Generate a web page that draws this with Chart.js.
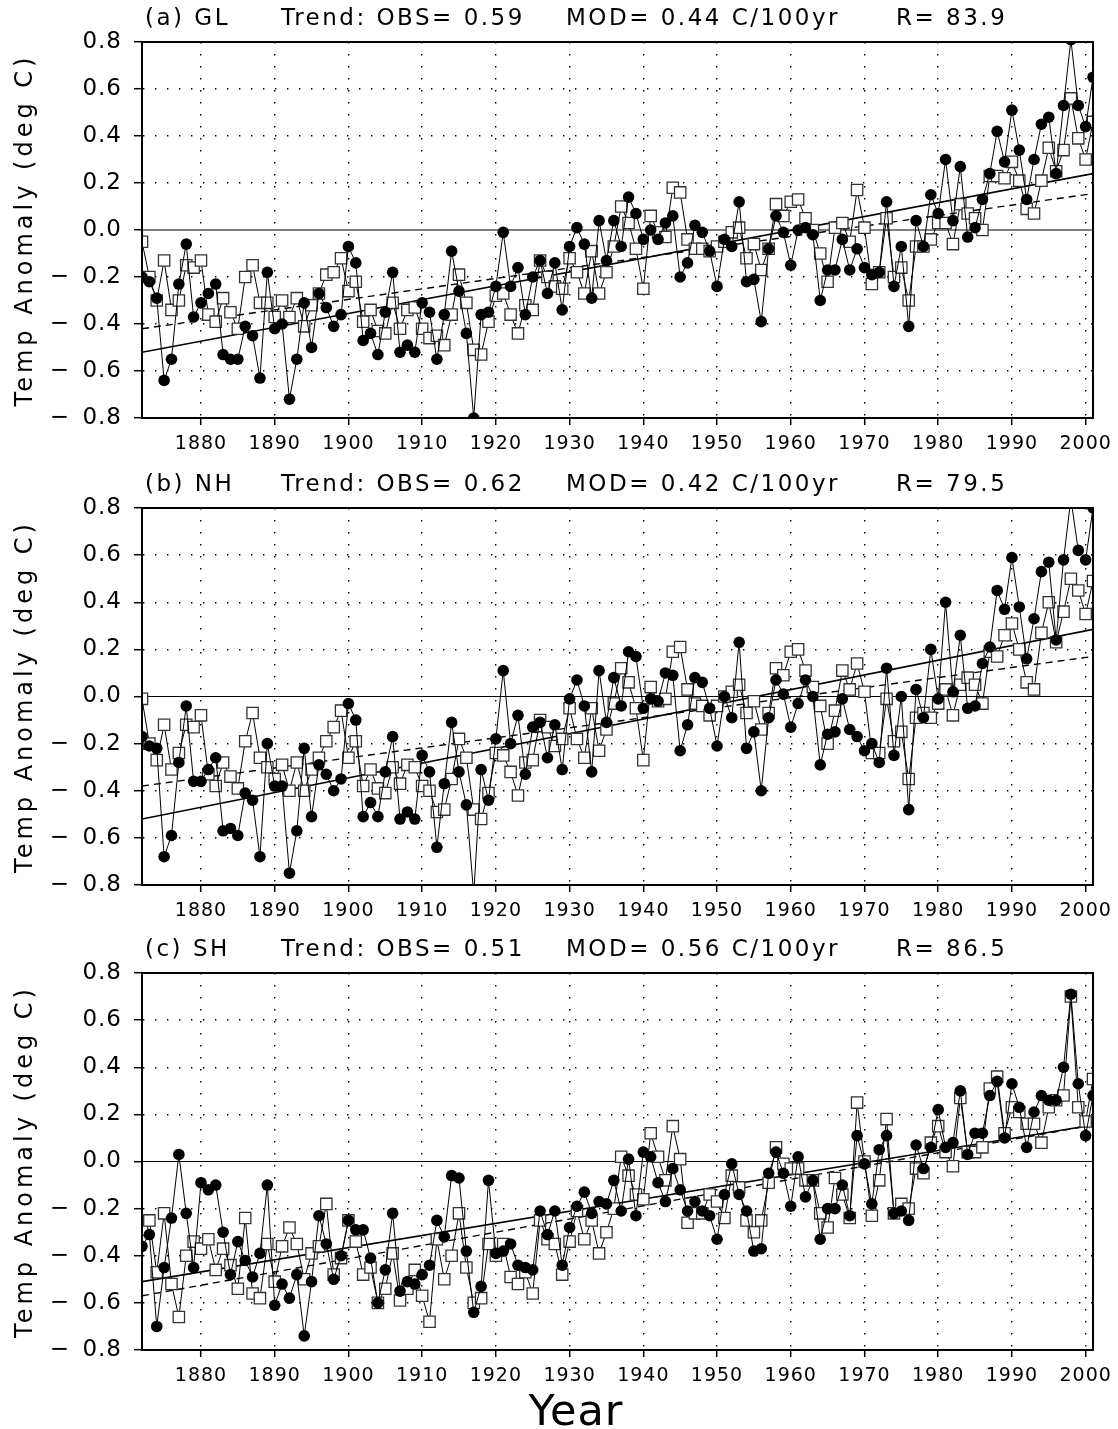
<!DOCTYPE html>
<html>
<head>
<meta charset="utf-8">
<script src="https://cdn.jsdelivr.net/npm/chart.js@4/dist/chart.umd.min.js"></script>
<style>
	body { margin: 0; background: #fff; }
	#wrap { position: relative; width: 1118px; height: 1429px; background: #fff; }
	canvas { position: absolute; left: 0; }
</style>
</head>
<body>
<div id="wrap">
	<canvas id="panelA" width="1118" height="465" style="top:0px"></canvas>
	<canvas id="panelB" width="1118" height="465" style="top:465px"></canvas>
	<canvas id="panelC" width="1118" height="499" style="top:930px"></canvas>
</div>
<script>
// Years on the x axis, one value per year 1872..2001
const years = Array.from({ length: 130 }, (_, i) => 1872 + i);
const xTickYears = [1880, 1890, 1900, 1910, 1920, 1930, 1940, 1950, 1960, 1970, 1980, 1990, 2000];
const yTickValues = [-0.8, -0.6, -0.4, -0.2, 0.0, 0.2, 0.4, 0.6, 0.8];
const trendYears = [1872, 2001];

// (a) Global
const glObs = [
	-0.20, -0.22, -0.29, -0.64, -0.55, -0.23, -0.06, -0.37,
	-0.31, -0.27, -0.23, -0.53, -0.55, -0.55, -0.41, -0.45, -0.63, -0.18,
	-0.42, -0.40, -0.72, -0.55, -0.31, -0.50, -0.27, -0.33, -0.41, -0.36,
	-0.07, -0.14, -0.47, -0.44, -0.53, -0.35, -0.18, -0.52, -0.49, -0.52,
	-0.31, -0.35, -0.55, -0.36, -0.09, -0.26, -0.44, -0.80, -0.36, -0.35,
	-0.24, -0.01, -0.24, -0.16, -0.36, -0.20, -0.13, -0.27, -0.14, -0.34,
	-0.07, 0.01, -0.06, -0.29, 0.04, -0.13, 0.04, -0.07, 0.14, 0.07,
	-0.04, 0.00, -0.04, 0.03, 0.06, -0.20, -0.14, 0.02, -0.01, -0.09,
	-0.24, -0.04, -0.07, 0.12, -0.22, -0.21, -0.39, -0.08, 0.06, -0.01,
	-0.15, 0.00, 0.01, -0.02, -0.30, -0.17, -0.17, -0.04, -0.17, -0.08,
	-0.16, -0.19, -0.18, 0.12, -0.24, -0.07, -0.41, 0.04, -0.07, 0.15,
	0.07, 0.30, 0.04, 0.27, -0.03, 0.01, 0.13, 0.24, 0.42, 0.29,
	0.51, 0.34, 0.13, 0.30, 0.45, 0.48, 0.24, 0.53, 0.81, 0.53,
	0.44, 0.65
];
const glMod = [
	-0.05, -0.20, -0.30, -0.13, -0.34, -0.30, -0.15, -0.16,
	-0.13, -0.36, -0.39, -0.29, -0.35, -0.42, -0.20, -0.15, -0.31, -0.31,
	-0.37, -0.30, -0.37, -0.29, -0.41, -0.32, -0.27, -0.19, -0.18, -0.12,
	-0.26, -0.22, -0.39, -0.34, -0.43, -0.44, -0.31, -0.42, -0.34, -0.33,
	-0.42, -0.46, -0.45, -0.49, -0.36, -0.19, -0.31, -0.51, -0.53, -0.39,
	-0.28, -0.27, -0.36, -0.44, -0.32, -0.34, -0.13, -0.20, -0.24, -0.25,
	-0.12, -0.18, -0.27, -0.09, -0.27, -0.18, -0.07, 0.10, 0.03, -0.08,
	-0.25, 0.06, -0.01, -0.03, 0.18, 0.16, -0.04, -0.08, -0.08, -0.09,
	-0.07, -0.05, -0.01, 0.01, -0.12, -0.06, -0.17, -0.08, 0.11, 0.06,
	0.12, 0.13, 0.05, 0.00, -0.10, -0.22, 0.01, 0.03, -0.05, 0.17,
	0.01, -0.23, -0.18, 0.05, -0.20, -0.16, -0.30, -0.07, -0.07, -0.04,
	0.03, 0.03, -0.06, 0.11, 0.07, 0.05, 0.00, 0.23, 0.23, 0.22,
	0.29, 0.21, 0.09, 0.07, 0.21, 0.35, 0.25, 0.34, 0.56, 0.39,
	0.30, 0.46
];
const glObsTrend = [-0.52, 0.24];
const glModTrend = [-0.42, 0.155];
const glTitle = ['(a) GL', 'Trend: OBS= 0.59', 'MOD= 0.44 C/100yr', 'R= 83.9'];

// (b) Northern Hemisphere
const nhObs = [
	-0.17, -0.21, -0.22, -0.68, -0.59, -0.28, -0.04, -0.36,
	-0.36, -0.31, -0.26, -0.57, -0.56, -0.59, -0.41, -0.44, -0.68, -0.20,
	-0.38, -0.38, -0.75, -0.57, -0.22, -0.51, -0.29, -0.33, -0.40, -0.35,
	-0.03, -0.10, -0.51, -0.45, -0.51, -0.32, -0.17, -0.52, -0.49, -0.52,
	-0.25, -0.32, -0.64, -0.37, -0.11, -0.32, -0.46, -0.84, -0.31, -0.44,
	-0.18, 0.11, -0.20, -0.08, -0.33, -0.13, -0.11, -0.26, -0.12, -0.31,
	-0.01, 0.07, -0.04, -0.32, 0.11, -0.11, 0.08, -0.04, 0.19, 0.17,
	-0.05, -0.01, -0.02, 0.10, 0.09, -0.23, -0.12, 0.08, 0.06, -0.05,
	-0.21, 0.00, -0.09, 0.23, -0.22, -0.15, -0.40, -0.09, 0.07, 0.01,
	-0.13, -0.03, 0.07, 0.00, -0.29, -0.16, -0.15, -0.01, -0.14, -0.17,
	-0.23, -0.20, -0.28, 0.12, -0.25, 0.00, -0.48, 0.03, -0.09, 0.20,
	-0.01, 0.40, 0.02, 0.26, -0.05, -0.04, 0.14, 0.21, 0.45, 0.37,
	0.59, 0.38, 0.16, 0.33, 0.53, 0.57, 0.24, 0.58, 0.84, 0.62,
	0.58, 0.80
];
const nhMod = [
	-0.01, -0.20, -0.27, -0.12, -0.31, -0.24, -0.12, -0.13,
	-0.08, -0.33, -0.38, -0.28, -0.34, -0.39, -0.19, -0.07, -0.26, -0.30,
	-0.35, -0.29, -0.40, -0.28, -0.40, -0.31, -0.26, -0.19, -0.13, -0.06,
	-0.26, -0.19, -0.38, -0.31, -0.39, -0.41, -0.30, -0.37, -0.29, -0.30,
	-0.38, -0.40, -0.49, -0.48, -0.35, -0.18, -0.26, -0.48, -0.52, -0.41,
	-0.24, -0.25, -0.32, -0.42, -0.28, -0.27, -0.10, -0.13, -0.21, -0.18,
	-0.05, -0.18, -0.26, -0.05, -0.23, -0.14, -0.03, 0.12, 0.06, -0.05,
	-0.27, 0.04, -0.02, -0.01, 0.19, 0.21, 0.03, -0.03, -0.04, -0.08,
	-0.04, 0.00, 0.02, 0.05, -0.07, -0.02, -0.14, -0.07, 0.12, 0.09,
	0.19, 0.20, 0.11, 0.04, -0.04, -0.20, -0.06, 0.11, 0.03, 0.14,
	0.02, -0.24, -0.24, -0.01, -0.19, -0.15, -0.35, -0.09, -0.07, -0.09,
	-0.03, 0.03, -0.08, 0.05, 0.08, 0.05, -0.03, 0.19, 0.17, 0.26,
	0.31, 0.20, 0.06, 0.03, 0.27, 0.40, 0.23, 0.36, 0.50, 0.45,
	0.35, 0.49
];
const nhObsTrend = [-0.52, 0.285];
const nhModTrend = [-0.38, 0.17];
const nhTitle = ['(b) NH', 'Trend: OBS= 0.62', 'MOD= 0.42 C/100yr', 'R= 79.5'];

// (c) Southern Hemisphere
const shObs = [
	-0.36, -0.31, -0.70, -0.45, -0.24, 0.03, -0.22, -0.45,
	-0.09, -0.12, -0.10, -0.30, -0.48, -0.34, -0.42, -0.49, -0.39, -0.10,
	-0.61, -0.52, -0.58, -0.48, -0.74, -0.51, -0.23, -0.35, -0.50, -0.40,
	-0.25, -0.29, -0.29, -0.41, -0.60, -0.46, -0.22, -0.55, -0.51, -0.52,
	-0.48, -0.44, -0.25, -0.32, -0.06, -0.07, -0.38, -0.64, -0.53, -0.08,
	-0.39, -0.38, -0.35, -0.44, -0.45, -0.46, -0.21, -0.31, -0.21, -0.44,
	-0.28, -0.19, -0.13, -0.22, -0.17, -0.18, -0.08, -0.21, 0.01, -0.23,
	0.04, 0.02, -0.09, -0.17, -0.03, -0.12, -0.21, -0.17, -0.21, -0.23,
	-0.33, -0.14, -0.01, -0.14, -0.21, -0.38, -0.37, -0.05, 0.04, -0.05,
	-0.19, 0.02, -0.15, -0.08, -0.33, -0.20, -0.20, -0.10, -0.23, 0.11,
	-0.01, -0.18, 0.05, 0.11, -0.22, -0.21, -0.25, 0.07, -0.03, 0.06,
	0.22, 0.06, 0.08, 0.30, 0.03, 0.12, 0.12, 0.28, 0.34, 0.10,
	0.33, 0.23, 0.06, 0.21, 0.28, 0.26, 0.26, 0.40, 0.71, 0.33,
	0.11, 0.28
];
const shMod = [
	-0.29, -0.25, -0.47, -0.22, -0.52, -0.66, -0.40, -0.34,
	-0.37, -0.33, -0.46, -0.37, -0.44, -0.54, -0.24, -0.56, -0.58, -0.35,
	-0.51, -0.36, -0.28, -0.35, -0.50, -0.39, -0.36, -0.18, -0.48, -0.41,
	-0.25, -0.34, -0.48, -0.45, -0.60, -0.54, -0.39, -0.59, -0.54, -0.46,
	-0.57, -0.68, -0.33, -0.50, -0.40, -0.22, -0.45, -0.60, -0.58, -0.35,
	-0.40, -0.35, -0.49, -0.52, -0.47, -0.56, -0.25, -0.33, -0.35, -0.48,
	-0.34, -0.21, -0.33, -0.25, -0.39, -0.30, -0.20, 0.02, -0.06, -0.14,
	-0.16, 0.12, 0.02, -0.08, 0.15, 0.01, -0.26, -0.22, -0.22, -0.14,
	-0.17, -0.24, -0.06, -0.11, -0.25, -0.30, -0.25, -0.09, 0.06, -0.01,
	-0.03, -0.03, -0.08, -0.08, -0.22, -0.28, -0.07, -0.14, -0.24, 0.25,
	0.00, -0.23, -0.08, 0.18, -0.22, -0.18, -0.20, -0.03, -0.05, 0.08,
	0.15, 0.04, -0.02, 0.27, 0.04, 0.04, 0.06, 0.31, 0.36, 0.12,
	0.23, 0.21, 0.16, 0.16, 0.08, 0.23, 0.26, 0.28, 0.70, 0.23,
	0.17, 0.35
];
const shObsTrend = [-0.51, 0.155];
const shModTrend = [-0.57, 0.155];
const shTitle = ['(c) SH', 'Trend: OBS= 0.51', 'MOD= 0.56 C/100yr', 'R= 86.5'];

const FONT = '"DejaVu Sans", "Liberation Sans", sans-serif';
const titleX = [145, 281, 566, 896];

function toPoints(xs, ys) {
	return xs.map((x, i) => ({ x: x, y: ys[i] }));
}

function yLabel(v) {
	const r = Math.round(v * 10) / 10;
	if (r < 0) return '\u2212\u2002' + Math.abs(r).toFixed(1);
	return r.toFixed(1);
}

function isZero(v) {
	return Math.abs(v) < 1e-6;
}

function isEdge(v) {
	return Math.abs(Math.abs(v) - 0.8) < 1e-6;
}

// Frame, zero line and all the free text of one panel
function makeDecor(titleParts, showYear) {
	return {
		id: 'panelDecor',
		beforeDraw(chart) {
			chart.ctx.letterSpacing = '1px';
		},
		beforeDatasetsDraw(chart) {
			const { ctx, chartArea: a, scales } = chart;
			const y0 = scales.y.getPixelForValue(0);
			ctx.save();
			ctx.strokeStyle = '#000';
			ctx.lineWidth = 1;
			ctx.beginPath();
			ctx.moveTo(a.left, y0);
			ctx.lineTo(a.right, y0);
			ctx.stroke();
			ctx.restore();
		},
		afterDraw(chart) {
			const { ctx, chartArea: a } = chart;
			ctx.save();
			ctx.strokeStyle = '#000';
			ctx.lineWidth = 2;
			ctx.strokeRect(a.left, a.top, a.right - a.left, a.bottom - a.top);

			ctx.fillStyle = '#000';
			ctx.font = '23px ' + FONT;
			ctx.letterSpacing = '2.5px';
			ctx.textAlign = 'left';
			ctx.textBaseline = 'middle';
			titleParts.forEach((t, i) => ctx.fillText(t, titleX[i], a.top - 23));

			if (showYear) {
				ctx.font = '43px ' + FONT;
				ctx.letterSpacing = '1px';
				ctx.textAlign = 'center';
				ctx.textBaseline = 'alphabetic';
				ctx.fillText('Year', 576, chart.height - 4);
			}

			ctx.font = '24px ' + FONT;
			ctx.letterSpacing = '4px';
			ctx.translate(32, (a.top + a.bottom) / 2);
			ctx.rotate(-Math.PI / 2);
			ctx.textAlign = 'center';
			ctx.textBaseline = 'alphabetic';
			ctx.fillText('Temp Anomaly (deg C)', 0, 0);
			ctx.restore();
			ctx.letterSpacing = '0px';
		},
	};
}

function renderPanel(canvasId, obs, mod, obsTrend, modTrend, titleParts, layout) {
	const canvas = document.getElementById(canvasId);
	const ctx = canvas.getContext('2d');

	return new Chart(ctx, {
		type: 'line',
		data: {
			datasets: [
				{
					label: 'OBS',
					data: toPoints(years, obs),
					borderColor: '#000',
					borderWidth: 1,
					pointStyle: 'circle',
					pointRadius: 5.8,
					pointBackgroundColor: '#000',
					pointBorderColor: '#000',
					pointBorderWidth: 0,
					order: 0,
				},
				{
					label: 'MOD',
					data: toPoints(years, mod),
					borderColor: '#000',
					borderWidth: 1,
					pointStyle: 'rect',
					pointRadius: 8,
					pointBackgroundColor: '#fff',
					pointBorderColor: '#333',
					pointBorderWidth: 1.3,
					order: 1,
				},
				{
					label: 'OBS trend',
					data: toPoints(trendYears, obsTrend),
					borderColor: '#000',
					borderWidth: 1.6,
					pointRadius: 0,
					order: 2,
				},
				{
					label: 'MOD trend',
					data: toPoints(trendYears, modTrend),
					borderColor: '#000',
					borderWidth: 1.4,
					borderDash: [7, 5],
					pointRadius: 0,
					order: 3,
				},
			],
		},
		options: {
			responsive: false,
			animation: false,
			devicePixelRatio: 1,
			events: [],
			layout: {
				padding: { top: layout.top, right: 24, bottom: 0, left: 0 },
			},
			plugins: {
				legend: { display: false },
				tooltip: { enabled: false },
				title: { display: false },
			},
			scales: {
				x: {
					type: 'linear',
					min: 1872,
					max: 2001,
					afterBuildTicks: (scale) => {
						scale.ticks = xTickYears.map((v) => ({ value: v }));
					},
					afterFit: (scale) => {
						scale.height = layout.xHeight;
					},
					grid: {
						color: '#000',
						lineWidth: 1.4,
						drawTicks: true,
						tickLength: 7,
						tickColor: '#000',
						tickWidth: 1.5,
					},
					border: { display: true, color: '#000', width: 2, dash: [1.4, 10.6] },
					ticks: {
						color: '#000',
						font: { family: FONT, size: 19 },
						padding: 8,
						maxRotation: 0,
						autoSkip: false,
						callback: (v) => String(v),
					},
				},
				y: {
					min: -0.8,
					max: 0.8,
					afterBuildTicks: (scale) => {
						scale.ticks = yTickValues.map((v) => ({ value: v }));
					},
					afterFit: (scale) => {
						scale.width = 142;
					},
					grid: {
						color: (c) =>
							c.tick && (isZero(c.tick.value) || isEdge(c.tick.value))
								? 'rgba(0,0,0,0)'
								: '#000',
						lineWidth: 1.4,
						drawTicks: true,
						tickLength: 8,
						tickColor: '#000',
						tickWidth: 1.5,
					},
					border: { display: true, color: '#000', width: 2, dash: [1.4, 10.6] },
					ticks: {
						color: '#000',
						font: { family: FONT, size: 23 },
						padding: 12,
						autoSkip: false,
						callback: yLabel,
					},
				},
			},
		},
		plugins: [makeDecor(titleParts, layout.showYear)],
	});
}

document.addEventListener('DOMContentLoaded', function () {
	renderPanel('panelA', glObs, glMod, glObsTrend, glModTrend, glTitle,
		{ top: 42, xHeight: 47, showYear: false });
	renderPanel('panelB', nhObs, nhMod, nhObsTrend, nhModTrend, nhTitle,
		{ top: 43, xHeight: 45, showYear: false });
	renderPanel('panelC', shObs, shMod, shObsTrend, shModTrend, shTitle,
		{ top: 43, xHeight: 79, showYear: true });
});
</script>
</body>
</html>
